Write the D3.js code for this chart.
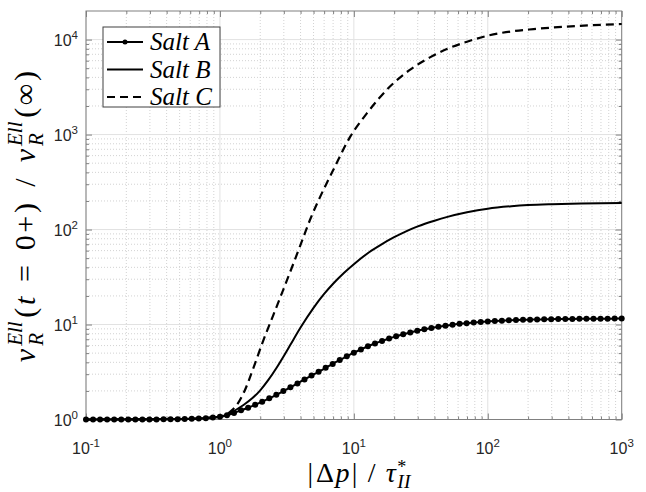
<!DOCTYPE html>
<html>
<head>
<meta charset="utf-8">
<script src="https://cdn.jsdelivr.net/npm/d3@7"></script>
<style>
  body { margin: 0; background: #fff; }
</style>
</head>
<body>
<div id="chart"></div>
<script>
// values
var xA = [0.1, 0.1129, 0.1274, 0.1438, 0.1624, 0.1833, 0.2069, 0.2336, 0.2637, 0.2976,
  0.336, 0.3793, 0.4281, 0.4833, 0.5456, 0.6159, 0.6952, 0.7848, 0.8859, 1,
  1.129, 1.274, 1.438, 1.624, 1.833, 2.069, 2.336, 2.637, 2.976, 3.36,
  3.793, 4.281, 4.833, 5.456, 6.159, 6.952, 7.848, 8.859, 10, 11.29,
  12.74, 14.38, 16.24, 18.33, 20.69, 23.36, 26.37, 29.76, 33.6, 37.93,
  42.81, 48.33, 54.56, 61.59, 69.52, 78.48, 88.59, 100, 112.9, 127.4,
  143.8, 162.4, 183.3, 206.9, 233.6, 263.7, 297.6, 336, 379.3, 428.1,
  483.3, 545.6, 615.9, 695.2, 784.8, 885.9, 1000];
var saltA = [1.000, 1.000, 1.000, 1.000, 1.000, 1.001, 1.001, 1.001, 1.002, 1.002,
  1.003, 1.004, 1.006, 1.008, 1.011, 1.016, 1.023, 1.033, 1.047, 1.068,
  1.11, 1.17, 1.25, 1.33, 1.43, 1.54, 1.67, 1.82, 1.99, 2.18,
  2.4, 2.64, 2.9, 3.18, 3.5, 3.85, 4.22, 4.62, 5.05, 5.47,
  5.9, 6.31, 6.72, 7.12, 7.51, 7.89, 8.25, 8.6, 8.92, 9.21,
  9.48, 9.73, 9.96, 10.16, 10.34, 10.5, 10.65, 10.77, 10.88, 10.98,
  11.06, 11.13, 11.2, 11.25, 11.3, 11.34, 11.38, 11.41, 11.44, 11.46,
  11.48, 11.5, 11.51, 11.52, 11.53, 11.54, 11.55];

var xB = [0.1, 0.5, 0.8, 1, 1.1, 1.26, 1.5, 1.75, 2, 2.3, 2.65, 3, 3.34, 4, 5, 6, 7, 8.5,
  10, 13, 16, 20, 25, 30, 40, 50, 70, 100, 150, 200, 300, 500, 1000];
var saltB = [1, 1.01, 1.04, 1.07, 1.1, 1.22, 1.42, 1.68, 2.03, 2.61, 3.51, 4.67, 6.04, 9.3, 15, 21, 26.9, 35.3,
  43.2, 57.7, 69.5, 83, 97, 108, 124, 136, 152, 166, 176, 181, 185, 188, 190];

var xC = [0.1, 0.5, 0.8, 1, 1.1, 1.22, 1.35, 1.5, 1.78, 2.1, 2.5, 2.98, 3.54, 4.2, 4.7, 5.6,
  7, 9.4, 12.5, 18.6, 26, 37, 50, 70, 100, 150, 220, 460, 1000];
var saltC = [1, 1.01, 1.04, 1.07, 1.12, 1.24, 1.45, 1.89, 3.5, 6.7, 12.5, 23.5, 44, 83, 126, 221,
  420, 950, 1670, 3200, 4770, 6500, 8000, 9500, 11000, 12200, 12900, 13900, 14600];

var xTicks = [0.1, 1, 10, 100, 1000];
var yTicks = [1, 10, 100, 1000, 10000];
var seriesNames = ["Salt A", "Salt B", "Salt C"];

var margin = {top: 11, right: 24.3, bottom: 72.5, left: 86},
    width = 646 - margin.left - margin.right,
    height = 492 - margin.top - margin.bottom;

var svg = d3.select("#chart").append("svg")
    .attr("width", 646)
    .attr("height", 492)
    .style("background", "#fff");

var g = svg.append("g")
    .attr("transform", "translate(" + margin.left + "," + margin.top + ")");

var x = d3.scaleLog().domain([0.1, 1000]).range([0, width]);
var y = d3.scaleLog().domain([1, 2e4]).range([height, 0]);

// minor tick positions 2..9 in each decade
var xMinor = [], yMinor = [];
xTicks.slice(0, -1).forEach(function(d) { for (var k = 2; k < 10; k++) xMinor.push(d * k); });
yTicks.forEach(function(d) { for (var k = 2; k < 10; k++) if (d * k < 2e4) yMinor.push(d * k); });

// grid, minor dotted then major solid
var grid = g.append("g");
grid.selectAll(".xm").data(xMinor).enter().append("line")
    .attr("x1", x).attr("x2", x).attr("y1", 0).attr("y2", height)
    .attr("stroke", "#d2d2d2").attr("stroke-dasharray", "1,2");
grid.selectAll(".ym").data(yMinor).enter().append("line")
    .attr("y1", y).attr("y2", y).attr("x1", 0).attr("x2", width)
    .attr("stroke", "#d2d2d2").attr("stroke-dasharray", "1,2");
grid.selectAll(".xM").data(xTicks).enter().append("line")
    .attr("x1", x).attr("x2", x).attr("y1", 0).attr("y2", height)
    .attr("stroke", "#e2e2e2");
grid.selectAll(".yM").data(yTicks).enter().append("line")
    .attr("y1", y).attr("y2", y).attr("x1", 0).attr("x2", width)
    .attr("stroke", "#e2e2e2");

// ticks on all four sides, pointing inward
function ticks(axis, tx, vals, size) {
  var a = g.append("g")
      .attr("transform", tx)
      .call(axis.tickValues(vals).tickSize(-size).tickFormat(""));
  a.select(".domain").remove();
  a.selectAll("line").attr("stroke", "#808080");
}
ticks(d3.axisBottom(x), "translate(0," + height + ")", xTicks, 6);
ticks(d3.axisBottom(x), "translate(0," + height + ")", xMinor, 3);
ticks(d3.axisTop(x), "translate(0,0)", xTicks, 6);
ticks(d3.axisTop(x), "translate(0,0)", xMinor, 3);
ticks(d3.axisLeft(y), "translate(0,0)", yTicks, 6);
ticks(d3.axisLeft(y), "translate(0,0)", yMinor, 3);
ticks(d3.axisRight(y), "translate(" + width + ",0)", yTicks, 6);
ticks(d3.axisRight(y), "translate(" + width + ",0)", yMinor, 3);

g.append("rect")
    .attr("width", width).attr("height", height)
    .attr("fill", "none").attr("stroke", "#808080");

// tick labels 10^n
function powLabel(t, d) {
  t.append("tspan").text("10");
  t.append("tspan").attr("dy", -7).attr("font-size", 11.5).text(Math.round(Math.log10(d)));
}
g.selectAll(".xl").data(xTicks).enter().append("text")
    .attr("x", x).attr("y", height + 34.5)
    .attr("text-anchor", "middle")
    .attr("font-family", "'Liberation Sans', Arial, sans-serif")
    .attr("font-size", 16).attr("fill", "#262626")
    .each(function(d) { powLabel(d3.select(this), d); });
g.selectAll(".yl").data(yTicks).enter().append("text")
    .attr("x", -8).attr("y", function(d) { return y(d) + 6; })
    .attr("text-anchor", "end")
    .attr("font-family", "'Liberation Sans', Arial, sans-serif")
    .attr("font-size", 16).attr("fill", "#262626")
    .each(function(d) { powLabel(d3.select(this), d); });

// curves
var line = d3.line()
    .x(function(d) { return x(d[0]); })
    .y(function(d) { return y(d[1]); })
    .curve(d3.curveMonotoneX);

g.append("path").datum(d3.zip(xC, saltC))
    .attr("d", line).attr("fill", "none")
    .attr("stroke", "#000").attr("stroke-width", 2.2).attr("stroke-dasharray", "8,5");
g.append("path").datum(d3.zip(xB, saltB))
    .attr("d", line).attr("fill", "none")
    .attr("stroke", "#000").attr("stroke-width", 2);
g.append("path").datum(d3.zip(xA, saltA))
    .attr("d", line).attr("fill", "none")
    .attr("stroke", "#000").attr("stroke-width", 2);
g.selectAll(".dot").data(d3.zip(xA, saltA)).enter().append("circle")
    .attr("cx", function(d) { return x(d[0]); })
    .attr("cy", function(d) { return y(d[1]); })
    .attr("r", 3).attr("fill", "#000");

// legend
var leg = svg.append("g").attr("transform", "translate(103,27)");
leg.append("rect").attr("width", 117).attr("height", 80)
    .attr("fill", "#fff").attr("stroke", "#404040");
var dashes = [null, null, "8,5"];
seriesNames.forEach(function(name, i) {
  var yy = 15 + i * 27.5;
  leg.append("line").attr("x1", 4).attr("x2", 40).attr("y1", yy).attr("y2", yy)
      .attr("stroke", "#000").attr("stroke-width", 2)
      .attr("stroke-dasharray", dashes[i]);
  if (i === 0) leg.append("circle").attr("cx", 22).attr("cy", yy).attr("r", 2.5).attr("fill", "#000");
  leg.append("text").attr("x", 47).attr("y", yy + 8)
      .attr("font-family", "'Liberation Serif', serif").attr("font-style", "italic")
      .attr("font-size", 25).attr("fill", "#000")
      .text(name);
});

// math-like axis titles built from pieces
function mathLabel(parent, parts, size, ls) {
  var lg = parent.append("g");
  var cx = 0, prevStart = 0, prevEnd = 0;
  parts.forEach(function(p) {
    var t = lg.append("text")
        .attr("font-family", "'Liberation Serif', serif")
        .attr("font-style", p.it ? "italic" : "normal")
        .attr("font-size", size * (p.s || 1))
        .attr("letter-spacing", p.s ? 0 : ls)
        .attr("fill", "#000")
        .attr("y", (p.dy || 0) * size)
        .text(p.t);
    var start = p.stack ? prevStart : cx + (p.pad || 0) * size;
    t.attr("x", start);
    var w = t.node().getComputedTextLength();
    if (p.stack) {
      prevEnd = Math.max(prevEnd, start + w);
    } else {
      prevStart = start;
      prevEnd = start + w;
    }
    cx = prevEnd;
  });
  return {g: lg, w: cx};
}

var xt = svg.append("g");
var xl = mathLabel(xt, [
  {t: "|"}, {t: "\u0394", pad: 0.08}, {t: "p", it: true, pad: 0.04}, {t: "|", pad: 0.06},
  {t: "/", pad: 0.35}, {t: "\u03c4", it: true, pad: 0.35},
  {t: "*", s: 0.65, dy: -0.33, pad: 0.04}, {t: "II", it: true, s: 0.7, dy: 0.2, stack: true}
], 28, 0.5);
xt.attr("transform", "translate(" + (359 - xl.w / 2) + ",482)");

var yt = svg.append("g");
var yl = mathLabel(yt, [
  {t: "v", it: true}, {t: "Ell", it: true, s: 0.7, dy: -0.42, pad: 0.06},
  {t: "R", it: true, s: 0.7, dy: 0.25, stack: true},
  {t: "(", pad: 0.12}, {t: "t", it: true, pad: 0.05}, {t: "=", pad: 0.45}, {t: "0", pad: 0.45},
  {t: "+", pad: 0.05}, {t: ")", pad: 0.05}, {t: "/", pad: 0.5},
  {t: "v", it: true, pad: 0.5}, {t: "Ell", it: true, s: 0.7, dy: -0.42, pad: 0.06},
  {t: "R", it: true, s: 0.7, dy: 0.25, stack: true},
  {t: "(", pad: 0.12}, {t: "\u221e", pad: 0.05}, {t: ")", pad: 0.05}
], 30, 1.2);
yt.attr("transform", "translate(35,216) rotate(-90) translate(" + (-yl.w / 2) + ",0)");
</script>
</body>
</html>
